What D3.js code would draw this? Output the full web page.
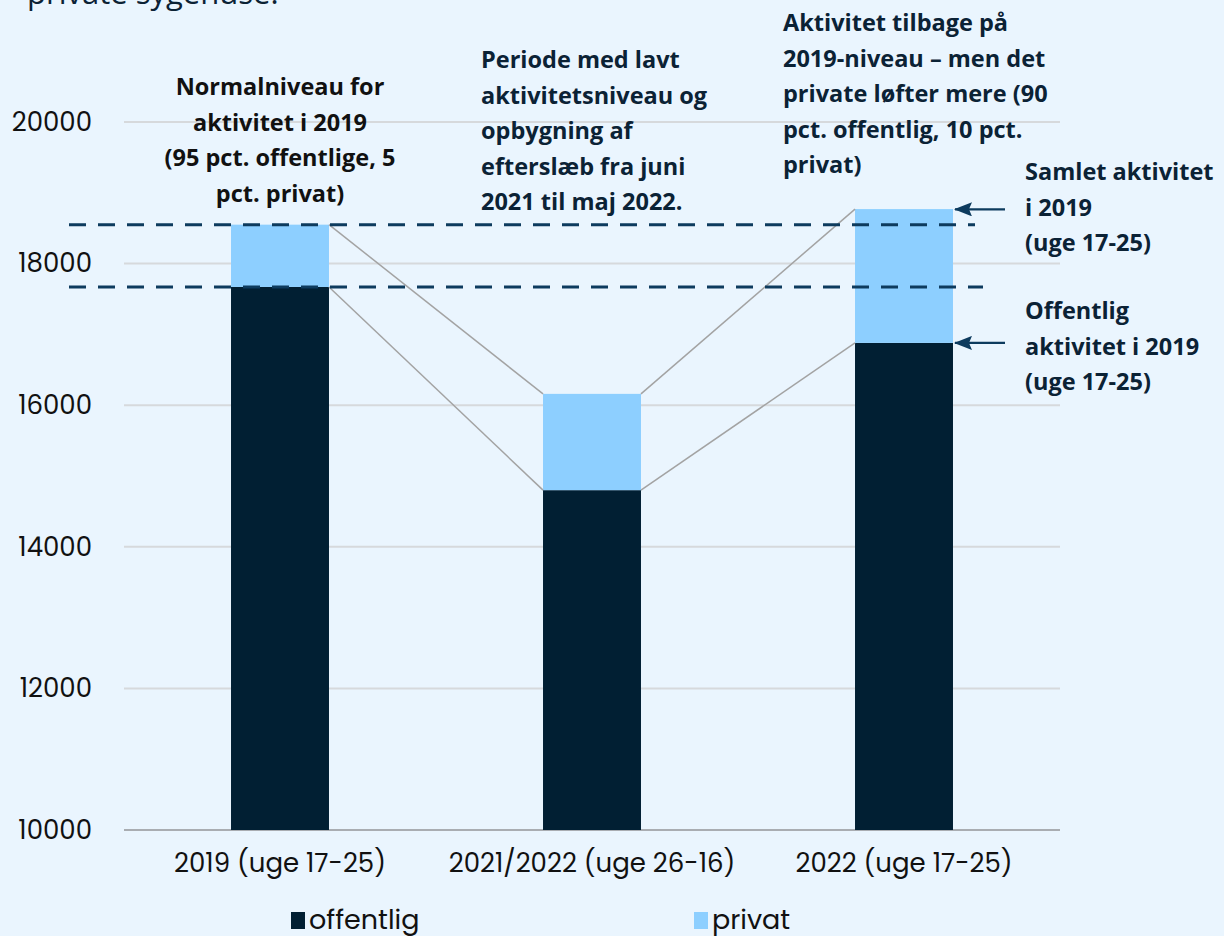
<!DOCTYPE html>
<html>
<head>
<meta charset="utf-8">
<script src="https://cdn.jsdelivr.net/npm/d3@7"></script>
<style>
  html, body { margin: 0; padding: 0; background: #eaf5fe; }
  svg { display: block; }
</style>
</head>
<body>
<svg id="chart" width="1224" height="936"></svg>
<script>
// data
const categories = ["2019 (uge 17-25)", "2021/2022 (uge 26-16)", "2022 (uge 17-25)"];
const offentlig = [17670, 14800, 16880];
const privat = [880, 1360, 1890];
const yTicks = [10000, 12000, 14000, 16000, 18000, 20000];
const refLevels = [18550, 17670]; // samlet / offentlig 2019

const notes = [
  ["Normalniveau for", "aktivitet i 2019", "(95 pct. offentlige, 5", "pct. privat)"],
  ["Periode med lavt", "aktivitetsniveau og", "opbygning af", "efterslæb fra juni", "2021 til maj 2022."],
  ["Aktivitet tilbage på", "2019-niveau – men det", "private løfter mere (90", "pct. offentlig, 10 pct.", "privat)"]
];
const sideNotes = [
  ["Samlet aktivitet", "i 2019", "(uge 17-25)"],
  ["Offentlig", "aktivitet i 2019", "(uge 17-25)"]
];

const navy = "#0b2235";
const dark = "#011f33";
const light = "#8dcfff";
const dashCol = "#0d3b5e";
const axisFont = "Poppins, Inter, sans-serif";
const noteFont = "'Open Sans', sans-serif";

const svg = d3.select("#chart");
const margin = {top: 122, right: 164, bottom: 106, left: 124};
const width = 1224, height = 936;

const x = d3.scaleBand()
  .domain(d3.range(categories.length))
  .range([margin.left, width - margin.right])
  .padding(0);

const barW = x.bandwidth() * 0.314;

const y = d3.scaleLinear()
  .domain([10000, 20000])
  .range([height - margin.bottom, margin.top]);

// cut-off text at the top
svg.append("text")
  .attr("x", 27).attr("y", 4)
  .attr("font-family", "'Open Sans', sans-serif")
  .attr("font-size", 31)
  .attr("fill", navy)
  .text("private sygehuse.");

// gridlines
svg.append("g")
  .selectAll("line")
  .data(yTicks)
  .join("line")
  .attr("x1", margin.left)
  .attr("x2", width - margin.right)
  .attr("y1", d => y(d))
  .attr("y2", d => y(d))
  .attr("stroke", d => d === 10000 ? "#a9adb2" : "#d6d9dc")
  .attr("stroke-width", 2);

// y axis labels
const yAxis = d3.axisLeft(y).tickValues(yTicks).tickSize(0).tickPadding(0).tickFormat(d3.format("d"));
const yg = svg.append("g")
  .attr("transform", `translate(92,0)`)
  .call(yAxis);
yg.select(".domain").remove();
yg.selectAll("text")
  .attr("font-family", axisFont)
  .attr("font-size", 26)
  .attr("fill", "#111");

// x axis labels
const xAxis = d3.axisBottom(x).tickSize(0).tickPadding(0).tickFormat(i => categories[i]);
const xg = svg.append("g")
  .attr("transform", `translate(0,${y(10000) + 24})`)
  .call(xAxis);
xg.select(".domain").remove();
xg.selectAll("text")
  .attr("font-family", axisFont)
  .attr("font-size", 26)
  .attr("fill", "#111");

// stacked bars
const stackData = categories.map((c, i) => ({i: i, offentlig: offentlig[i], privat: privat[i]}));
const series = d3.stack().keys(["offentlig", "privat"])(stackData);
const color = d3.scaleOrdinal().domain(["offentlig", "privat"]).range([dark, light]);

const bx = i => x(i) + (x.bandwidth() - barW) / 2;

svg.append("g")
  .selectAll("g")
  .data(series)
  .join("g")
  .attr("fill", d => color(d.key))
  .selectAll("rect")
  .data(d => d)
  .join("rect")
  .attr("x", (d, i) => bx(i))
  .attr("y", d => y(d[1]))
  .attr("height", d => y(Math.max(d[0], 10000)) - y(d[1]))
  .attr("width", barW);

// connector lines between bar tops
const tops = [offentlig, offentlig.map((v, i) => v + privat[i])];
const conn = svg.append("g").attr("stroke", "#a3a3a3").attr("stroke-width", 1.5);
tops.forEach(vals => {
  for (let i = 0; i < vals.length - 1; i++) {
    conn.append("line")
      .attr("x1", bx(i) + barW).attr("y1", y(vals[i]))
      .attr("x2", bx(i + 1)).attr("y2", y(vals[i + 1]));
  }
});

// dashed reference lines
svg.append("g")
  .selectAll("line")
  .data(refLevels)
  .join("line")
  .attr("x1", 69)
  .attr("x2", (d, i) => i === 0 ? 975 : 983)
  .attr("y1", d => y(d))
  .attr("y2", d => y(d))
  .attr("stroke", dashCol)
  .attr("stroke-width", 3)
  .attr("stroke-dasharray", "17 12");

// arrows to side notes
svg.append("defs").append("marker")
  .attr("id", "arrow")
  .attr("viewBox", "0 0 18 14")
  .attr("refX", 17).attr("refY", 7)
  .attr("markerWidth", 18).attr("markerHeight", 14)
  .attr("markerUnits", "userSpaceOnUse")
  .attr("orient", "auto")
  .append("path")
  .attr("d", "M0,0 L18,7 L0,14 L3,7 z")
  .attr("fill", dashCol);

const arrowY = [tops[1][2] - 4, tops[0][2]];
svg.append("g")
  .selectAll("line")
  .data(arrowY)
  .join("line")
  .attr("x1", 1005)
  .attr("x2", bx(2) + barW + 2)
  .attr("y1", d => y(d))
  .attr("y2", d => y(d))
  .attr("stroke", dashCol)
  .attr("stroke-width", 2.4)
  .attr("marker-end", "url(#arrow)");

// annotations over bars
function block(lines, xp, y0, anchor, fill) {
  const t = svg.append("text")
    .attr("font-family", noteFont)
    .attr("font-weight", "bold")
    .attr("font-size", 23.5)
    .attr("fill", fill)
    .attr("text-anchor", anchor);
  lines.forEach((l, k) => {
    t.append("tspan").attr("x", xp).attr("y", y0 + k * 35.5).text(l);
  });
}

block(notes[0], x(0) + x.bandwidth() / 2, 95, "middle", "#111");
block(notes[1], 481, 68, "start", navy);
block(notes[2], 783, 31, "start", navy);
block(sideNotes[0], 1025, 180, "start", navy);
block(sideNotes[1], 1025, 319, "start", navy);

// legend
const legend = svg.append("g");
const legendItems = [["offentlig", 291], ["privat", 694]];
legendItems.forEach(([k, lx]) => {
  legend.append("rect")
    .attr("x", lx).attr("y", 912)
    .attr("width", 14).attr("height", 17)
    .attr("fill", color(k));
  legend.append("text")
    .attr("x", lx + 18).attr("y", 929)
    .attr("font-family", axisFont)
    .attr("font-size", 27)
    .attr("fill", "#111")
    .text(k);
});
</script>
</body>
</html>
